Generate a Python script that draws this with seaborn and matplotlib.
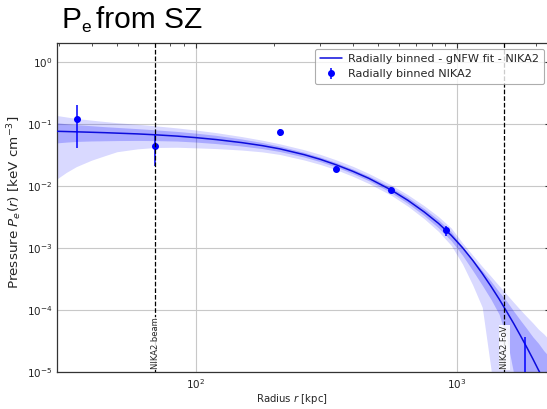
import matplotlib
matplotlib.use("Agg")
import matplotlib.pyplot as plt
import matplotlib.transforms as mtransforms
import numpy as np
import pandas as pd
import seaborn as sns

# ---------------- data ----------------
radius_kpc = [29, 32, 35, 40, 45, 50, 60, 70, 85, 100, 120, 150, 180, 210, 260,
              300, 345, 400, 460, 560, 650, 750, 850, 950, 1050, 1150, 1250,
              1350, 1450, 1550, 1650, 1750, 1850, 1950, 2050, 2150, 2300]

p_fit = [0.0757, 0.0749, 0.0741, 0.0729, 0.0718, 0.0706, 0.0686, 0.0664, 0.0632,
         0.0598, 0.0556, 0.0497, 0.0444, 0.0394, 0.0318, 0.0267, 0.0218, 0.0171,
         0.0132, 0.00857, 0.00581, 0.00378, 0.00248, 0.00160, 0.00101, 6.27e-4,
         3.87e-4, 2.40e-4, 1.50e-4, 9.4e-5, 6.0e-5, 3.85e-5, 2.5e-5, 1.64e-5,
         1.08e-5, 7.4e-6, 4.1e-6]

p_hi_outer = [0.1371, 0.1288, 0.1216, 0.1143, 0.1086, 0.1040, 0.0979, 0.0927, 0.0857,
              0.0793, 0.0719, 0.0622, 0.0543, 0.0475, 0.0382, 0.0321, 0.0262, 0.0206,
              0.0158, 0.01035, 0.00714, 0.00476, 0.00319, 0.00210, 0.00120, 7.6e-4,
              5.0e-4, 3.47e-4, 2.45e-4, 1.78e-4, 1.32e-4, 1.0e-4, 7.8e-5, 6.2e-5,
              4.9e-5, 4.1e-5, 3.0e-5]

p_hi_inner = [0.1045, 0.1000, 0.0966, 0.0929, 0.0897, 0.0873, 0.0834, 0.0798, 0.0752,
              0.0706, 0.0650, 0.0568, 0.0498, 0.0435, 0.0347, 0.0290, 0.0237, 0.0186,
              0.0144, 0.00944, 0.00647, 0.00427, 0.00283, 0.00184, 0.00104, 6.5e-4,
              4.3e-4, 2.9e-4, 1.95e-4, 1.38e-4, 9.5e-5, 6.8e-5, 5.0e-5, 3.7e-5,
              2.9e-5, 2.2e-5, 1.6e-5]

p_lo_inner = [0.0489, 0.0506, 0.0519, 0.0528, 0.0532, 0.0536, 0.0538, 0.0535, 0.0526,
              0.0507, 0.0479, 0.0438, 0.0398, 0.0357, 0.0291, 0.0245, 0.0201, 0.0157,
              0.0121, 0.00778, 0.00518, 0.00330, 0.00210, 0.00131, 7.6e-4, 4.3e-4,
              2.5e-4, 1.48e-4, 8.5e-5, 3.5e-5, 9.3e-6, 3e-7, 3e-7, 3e-7,
              3e-7, 3e-7, 3e-7]

p_lo_outer = [0.0123, 0.0164, 0.0204, 0.0259, 0.0306, 0.0354, 0.0394, 0.0414, 0.0418,
              0.0409, 0.0398, 0.0377, 0.0352, 0.0320, 0.0261, 0.0221, 0.0182, 0.0142,
              0.0109, 0.00705, 0.00467, 0.00294, 0.00184, 0.00110, 5.5e-4, 2.5e-4,
              1.1e-4, 1.1e-5, 3e-7, 3e-7, 3e-7, 3e-7, 3e-7, 3e-7,
              3e-7, 3e-7, 3e-7]

bin_radius = [35.1, 70, 210, 345, 560, 912, 1824]
bin_pressure = [0.119, 0.0431, 0.0733, 0.0186, 0.0085, 0.00193, 5e-6]
bin_error = [0.078, 0.022, 0.009, 0.0022, 0.0009, 0.00035, 3.2e-5]

beam_radius = 70
fov_radius = 1520

fit_label = "Radially binned - gNFW fit - NIKA2"
data_label = "Radially binned NIKA2"

# ---------------- figure ----------------
sns.set_style("white")
plt.rcParams["font.family"] = ["DejaVu Sans"]

W, H = 547, 409
fig = plt.figure(figsize=(W / 100, H / 100), dpi=100)
ax = fig.add_axes([57 / W, 37 / H, (550 - 57) / W, 329 / H])
ax.set_xscale("log")
ax.set_yscale("log")

ax.fill_between(radius_kpc, p_lo_outer, p_hi_outer, color="blue", alpha=0.15,
                linewidth=0, zorder=2)
ax.fill_between(radius_kpc, p_lo_inner, p_hi_inner, color="blue", alpha=0.22,
                linewidth=0, zorder=2)

df_fit = pd.DataFrame({"r": radius_kpc, "P": p_fit})
sns.lineplot(data=df_fit, x="r", y="P", ax=ax, color="#0c0cdc", linewidth=1.1,
             estimator=None, sort=False, label=fit_label, zorder=3)

ax.errorbar(bin_radius, bin_pressure, yerr=bin_error, fmt="o", color="blue",
            markersize=4, elinewidth=1.1, capsize=0, label=data_label, zorder=4)

trans = mtransforms.blended_transform_factory(ax.transData, ax.transAxes)
for xr, txt in [(beam_radius, "NIKA2 beam"), (fov_radius, "NIKA2 FoV")]:
    ax.axvline(xr, color="black", linestyle="--", linewidth=0.9, zorder=5)
    ax.text(xr, 0.008, txt, rotation=90, ha="center", va="bottom", fontsize=6,
            transform=trans, zorder=6,
            bbox=dict(facecolor="white", edgecolor="none", alpha=0.85, pad=0.6))

ax.set_xlim(29.5, 2270)
ax.set_ylim(1e-5, 2.0)

ax.grid(True, which="major", color="#c8c8c8", linewidth=0.8, zorder=0)
ax.set_axisbelow(True)
for s in ax.spines.values():
    s.set_color("#333333")
    s.set_linewidth(0.9)
ax.tick_params(which="both", direction="in", top=True, right=True, labelsize=7.5,
               colors="#333333", labelcolor="#222222")
ax.tick_params(which="major", length=3.5)
ax.tick_params(which="minor", length=2)

ax.set_xlabel(r"Radius $r$ [kpc]", fontsize=7.3)
ax.xaxis.set_label_coords(0.477, -0.062)
ax.xaxis.label.set_verticalalignment("top")
ax.set_ylabel(r"Pressure $P_e(r)$ [keV cm$^{-3}$]", fontsize=9.7)
ax.yaxis.set_label_coords(-0.066, 0.515)

leg = ax.legend(loc="upper right", fontsize=8.1, frameon=True, fancybox=True,
                borderaxespad=0.55, handlelength=1.9, handletextpad=0.55,
                borderpad=0.45, labelspacing=0.45)
leg.get_frame().set_edgecolor("#999999")
leg.get_frame().set_linewidth(0.8)

# slide title
fig.text(62 / W, 1 - 28.5 / H, "P", fontsize=21.5, family=["Liberation Sans"],
         va="baseline", ha="left", color="black")
fig.text(81 / W, 1 - 31.5 / H, "e", fontsize=12.5, family=["Liberation Sans"],
         va="baseline", ha="left", color="black")
fig.text(96 / W, 1 - 28.5 / H, "from SZ", fontsize=21.5, family=["Liberation Sans"],
         va="baseline", ha="left", color="black")

fig.savefig("out.png", dpi=100)
